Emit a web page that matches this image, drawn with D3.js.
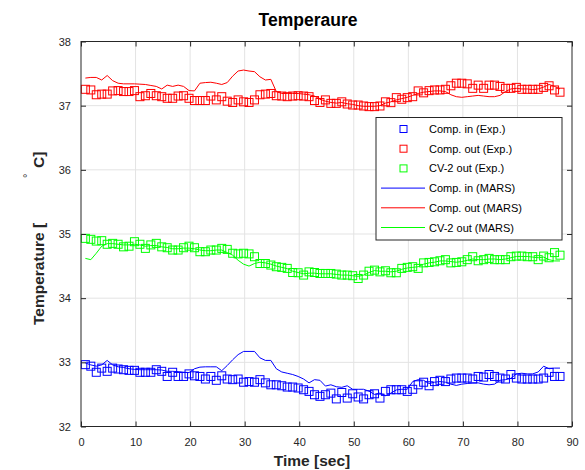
<!DOCTYPE html>
<html>
<head>
<meta charset="utf-8">
<script src="https://cdn.jsdelivr.net/npm/d3@7"></script>
<style>
  html, body { margin: 0; padding: 0; background: #ffffff; }
  svg { display: block; font-family: "Liberation Sans", Arial, Helvetica, sans-serif; }
</style>
</head>
<body>
<svg id="chart" width="585" height="470"></svg>
<script>
// Sample times [sec]
const times = [0.8,1.8,2.8,3.8,4.8,5.8,6.8,7.8,8.8,9.8,10.8,11.8,12.8,13.8,14.8,15.8,16.8,17.8,18.8,19.8,
  20.8,21.8,22.8,23.8,24.8,25.8,26.8,27.8,28.8,29.8,30.8,31.8,32.8,33.8,34.8,35.8,36.8,37.8,38.8,39.8,
  40.8,41.8,42.8,43.8,44.8,45.8,46.8,47.8,48.8,49.8,50.8,51.8,52.8,53.8,54.8,55.8,56.8,57.8,58.8,59.8,
  60.8,61.8,62.8,63.8,64.8,65.8,66.8,67.8,68.8,69.8,70.8,71.8,72.8,73.8,74.8,75.8,76.8,77.8,78.8,79.8,
  80.8,81.8,82.8,83.8,84.8,85.8,86.8,87.8];

// Measured temperatures (Exp.)
const compInExp = [32.964,32.94,32.845,32.91,32.86,32.91,32.896,32.885,32.875,32.875,
  32.845,32.845,32.845,32.885,32.86,32.78,32.845,32.78,32.78,32.82,
  32.79,32.78,32.74,32.78,32.72,32.79,32.74,32.73,32.74,32.69,
  32.70,32.69,32.73,32.68,32.65,32.65,32.635,32.615,32.615,32.60,
  32.573,32.547,32.495,32.47,32.495,32.52,32.43,32.53,32.443,32.51,
  32.46,32.43,32.495,32.51,32.443,32.547,32.573,32.573,32.573,32.547,
  32.58,32.65,32.69,32.635,32.70,32.72,32.70,32.74,32.755,32.755,
  32.755,32.74,32.78,32.77,32.81,32.78,32.755,32.74,32.81,32.755,
  32.74,32.74,32.74,32.74,32.755,32.845,32.78,32.78];

const compOutExp = [37.255,37.245,37.17,37.18,37.18,37.23,37.235,37.22,37.22,37.235,
  37.14,37.155,37.19,37.155,37.14,37.115,37.115,37.15,37.155,37.115,
  37.08,37.08,37.08,37.15,37.09,37.14,37.07,37.05,37.09,37.06,
  37.05,37.09,37.17,37.18,37.19,37.155,37.15,37.14,37.15,37.155,
  37.15,37.14,37.08,37.05,37.09,37.036,37.036,37.06,37.026,37.01,
  37.01,36.995,36.985,36.985,36.995,37.06,37.047,37.125,37.10,37.125,
  37.14,37.23,37.20,37.234,37.245,37.245,37.255,37.31,37.35,37.35,
  37.34,37.27,37.32,37.27,37.32,37.32,37.30,37.27,37.27,37.285,
  37.255,37.255,37.255,37.255,37.285,37.31,37.245,37.21];

const cv2OutExp = [34.932,34.917,34.89,34.896,34.84,34.854,34.84,34.80,34.81,34.88,
  34.84,34.776,34.83,34.854,34.80,34.786,34.75,34.75,34.786,34.81,
  34.786,34.724,34.724,34.75,34.75,34.776,34.76,34.70,34.69,34.70,
  34.69,34.646,34.54,34.54,34.516,34.49,34.48,34.464,34.40,34.396,
  34.36,34.41,34.40,34.385,34.385,34.385,34.375,34.36,34.36,34.35,
  34.307,34.36,34.42,34.437,34.41,34.427,34.396,34.396,34.464,34.48,
  34.49,34.464,34.55,34.557,34.567,34.583,34.60,34.55,34.557,34.567,
  34.60,34.646,34.583,34.60,34.62,34.60,34.60,34.60,34.646,34.656,
  34.656,34.646,34.646,34.60,34.656,34.63,34.71,34.67];

// Simulated temperatures (MARS)
const compInMars = [32.99,32.96,32.94,32.96,33.03,32.96,32.93,32.92,32.90,32.89,
  32.885,32.885,32.885,32.885,32.88,32.86,32.86,32.855,32.845,32.84,
  32.90,32.925,32.93,32.93,32.93,32.87,32.95,33.04,33.12,33.17,
  33.17,33.17,33.07,33.03,33.03,32.90,32.85,32.83,32.81,32.78,
  32.74,32.68,32.73,32.72,32.63,32.65,32.62,32.61,32.635,32.58,
  32.58,32.58,32.55,32.50,32.52,32.48,32.52,32.57,32.58,32.58,
  32.70,32.73,32.72,32.67,32.69,32.70,32.69,32.66,32.64,32.66,
  32.67,32.68,32.68,32.66,32.65,32.66,32.72,32.73,32.75,32.82,
  32.83,32.82,32.82,32.85,32.94,32.90,32.91,32.91];

const compOutMars = [37.43,37.44,37.44,37.40,37.47,37.39,37.35,37.34,37.34,37.34,
  37.335,37.33,37.315,37.30,37.26,37.32,37.30,37.32,37.30,37.235,
  37.23,37.35,37.36,37.365,37.35,37.33,37.36,37.46,37.54,37.555,
  37.54,37.53,37.45,37.40,37.41,37.22,37.19,37.19,37.19,37.19,
  37.18,37.17,37.15,37.10,37.07,37.05,37.04,37.05,37.03,37.02,
  37.00,36.99,36.99,36.99,37.00,37.04,37.06,37.09,37.11,37.13,
  37.16,37.19,37.21,37.22,37.23,37.23,37.22,37.17,37.14,37.13,
  37.14,37.15,37.16,37.15,37.14,37.14,37.16,37.22,37.26,37.27,
  37.26,37.26,37.25,37.26,37.29,37.33,37.30,37.26];

const cv2OutMars = [34.62,34.60,34.70,34.81,34.85,34.85,34.84,34.83,34.83,34.84,
  34.83,34.81,34.82,34.82,34.80,34.79,34.77,34.77,34.78,34.78,
  34.77,34.75,34.74,34.74,34.75,34.75,34.71,34.67,34.59,34.53,
  34.50,34.54,34.56,34.55,34.53,34.50,34.48,34.46,34.42,34.40,
  34.38,34.39,34.39,34.38,34.38,34.38,34.37,34.36,34.36,34.35,
  34.34,34.36,34.40,34.43,34.42,34.42,34.41,34.42,34.45,34.47,
  34.48,34.49,34.53,34.55,34.56,34.58,34.58,34.57,34.56,34.57,
  34.59,34.61,34.60,34.60,34.61,34.61,34.60,34.61,34.63,34.65,
  34.65,34.65,34.64,34.63,34.64,34.60,34.58,34.58];

const xTicks = [0,10,20,30,40,50,60,70,80,90];
const yTicks = [32,33,34,35,36,37,38];

const seriesNames = ["Comp. in (Exp.)","Comp. out (Exp.)","CV-2 out (Exp.)",
                     "Comp. in (MARS)","Comp. out (MARS)","CV-2 out (MARS)"];
const seriesColors = ["#0000ff","#ff0000","#00ff00","#0000ff","#ff0000","#00ff00"];

const svg = d3.select("#chart");
const plotLeft = 81, plotRight = 572, plotTop = 41.5, plotBottom = 426.5;
const axisColor = "#262626";

const x = d3.scaleLinear().domain([0, 90]).range([plotLeft, plotRight]);
const y = d3.scaleLinear().domain([32, 38]).range([plotBottom, plotTop]);

// grid
const grid = svg.append("g");
grid.selectAll("line.gx").data(xTicks.slice(1, -1)).enter().append("line")
  .attr("x1", d => x(d)).attr("x2", d => x(d)).attr("y1", plotTop).attr("y2", plotBottom)
  .attr("stroke", "#e3e3e3").attr("stroke-width", 1);
grid.selectAll("line.gy").data(yTicks.slice(1, -1)).enter().append("line")
  .attr("x1", plotLeft).attr("x2", plotRight).attr("y1", d => y(d)).attr("y2", d => y(d))
  .attr("stroke", "#e3e3e3").attr("stroke-width", 1);

// data
const plot = svg.append("g");
const expSets = [compInExp, compOutExp, cv2OutExp];
expSets.forEach((vals, k) => {
  plot.append("g").selectAll("rect").data(vals).enter().append("rect")
    .attr("x", (d, i) => x(times[i]) - 4).attr("y", d => y(d) - 4)
    .attr("width", 8).attr("height", 8)
    .attr("fill", "none").attr("stroke", seriesColors[k]).attr("stroke-width", 1);
});
const marsSets = [compInMars, compOutMars, cv2OutMars];
const line = d3.line().x((d, i) => x(times[i])).y(d => y(d));
marsSets.forEach((vals, k) => {
  plot.append("path").datum(vals).attr("d", line)
    .attr("fill", "none").attr("stroke", seriesColors[k + 3]).attr("stroke-width", 1);
});

// axes box with inward ticks
const axes = svg.append("g");
const bottomAxis = d3.axisBottom(x).tickValues(xTicks).tickSize(-5).tickPadding(12).tickFormat(d3.format("d"));
const topAxis = d3.axisTop(x).tickValues(xTicks).tickSize(-5).tickFormat("");
const leftAxis = d3.axisLeft(y).tickValues(yTicks).tickSize(-5).tickPadding(10).tickFormat(d3.format("d"));
const rightAxis = d3.axisRight(y).tickValues(yTicks).tickSize(-5).tickFormat("");

function styleAxis(g) {
  g.select(".domain").remove();
  g.selectAll(".tick line").attr("stroke", axisColor);
  g.selectAll(".tick text").attr("fill", "#262626").attr("font-size", "11px")
    .attr("font-family", "Liberation Sans, Arial, sans-serif");
}
axes.append("g").attr("transform", `translate(0,${plotBottom})`).call(bottomAxis).call(styleAxis);
axes.append("g").attr("transform", `translate(0,${plotTop})`).call(topAxis).call(styleAxis);
axes.append("g").attr("transform", `translate(${plotLeft},0)`).call(leftAxis).call(styleAxis);
axes.append("g").attr("transform", `translate(${plotRight},0)`).call(rightAxis).call(styleAxis);
axes.append("rect").attr("x", plotLeft).attr("y", plotTop)
  .attr("width", plotRight - plotLeft).attr("height", plotBottom - plotTop)
  .attr("fill", "none").attr("stroke", axisColor).attr("stroke-width", 1);

// title and axis labels
svg.append("text").attr("x", 308).attr("y", 26).attr("text-anchor", "middle")
  .attr("font-size", "17.5px").attr("font-weight", "bold").attr("fill", "#000")
  .text("Temperaure");
svg.append("text").attr("x", 312).attr("y", 466).attr("text-anchor", "middle")
  .attr("font-size", "15.5px").attr("font-weight", "bold").attr("fill", "#262626")
  .text("Time [sec]");

const yl = svg.append("g").attr("fill", "#262626").attr("font-weight", "bold");
yl.append("text").attr("transform", "translate(43.5,325) rotate(-90)")
  .attr("font-size", "15.5px").text("Temperature [");
yl.append("text").attr("transform", "translate(30.5,178) rotate(-90)")
  .attr("font-size", "11px").attr("font-weight", "normal").text("°");
yl.append("text").attr("transform", "translate(43.5,168) rotate(-90)")
  .attr("font-size", "15.5px").text("C]");

// legend
const lg = svg.append("g");
lg.append("rect").attr("x", 376).attr("y", 117.5).attr("width", 186).attr("height", 122.5)
  .attr("fill", "#ffffff").attr("stroke", axisColor).attr("stroke-width", 1);
const rowY = i => 129 + i * 19.7;
seriesNames.forEach((name, i) => {
  if (i < 3) {
    lg.append("rect").attr("x", 400).attr("y", rowY(i) - 3.5).attr("width", 7).attr("height", 7)
      .attr("fill", "none").attr("stroke", seriesColors[i]).attr("stroke-width", 1);
  } else {
    lg.append("line").attr("x1", 381).attr("x2", 425).attr("y1", rowY(i)).attr("y2", rowY(i))
      .attr("stroke", seriesColors[i]).attr("stroke-width", 1);
  }
  lg.append("text").attr("x", 429).attr("y", rowY(i) + 4).attr("font-size", "11px")
    .attr("fill", "#000").text(name);
});
</script>
</body>
</html>
